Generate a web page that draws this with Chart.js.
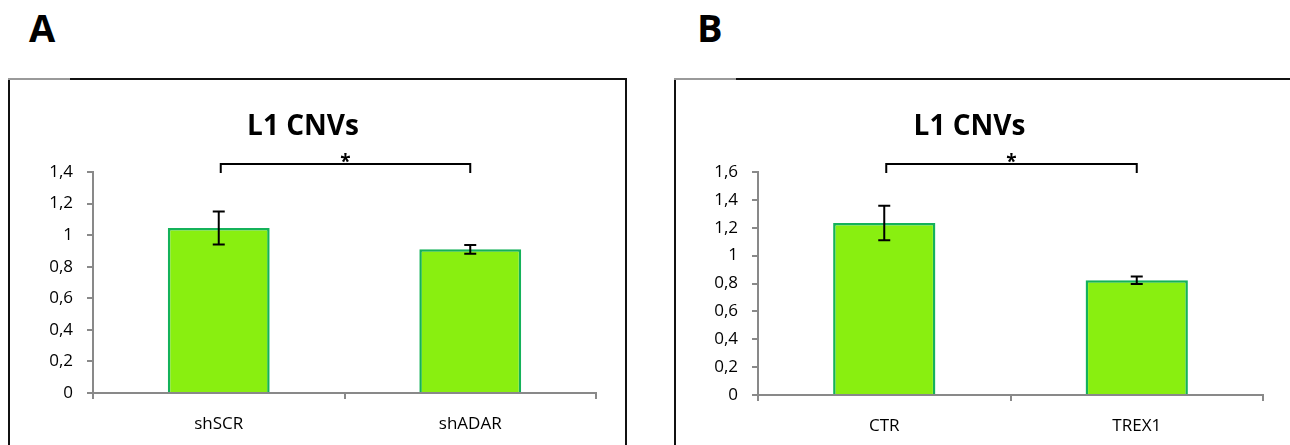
<!DOCTYPE html>
<html>
<head>
<meta charset="utf-8">
<title>L1 CNVs</title>
<script src="https://cdn.jsdelivr.net/npm/chart.js@4.4.1/dist/chart.umd.min.js"></script>
<style>
  html, body { margin: 0; padding: 0; background: #fff; }
  body { position: relative; width: 1290px; height: 445px; overflow: hidden; font-family: "Open Sans", sans-serif; }
  .letter { position: absolute; top: 8px; font-weight: 700; font-size: 38px; line-height: 38px; color: #000; }
  .panel { position: absolute; top: 78px; height: 367px; box-sizing: border-box;
           border-top: 2px solid #111; border-left: 2px solid #111; border-right: 2px solid #111; }
  .panel .fade { position: absolute; top: -2px; left: -2px; width: 62px; height: 2px; background: #9a9a9a; }
  canvas { position: absolute; }
</style>
</head>
<body>
<div class="letter" style="left:29px">A</div>
<div class="letter" style="left:697px">B</div>

<div class="panel" style="left:8px; width:619px"><div class="fade"></div></div>
<div class="panel" style="left:674px; width:640px"><div class="fade"></div></div>

<canvas id="chartA" width="614" height="365" style="left:10px; top:80px"></canvas>
<canvas id="chartB" width="614" height="365" style="left:676px; top:80px"></canvas>

<script>
// Panel A data
const labelsA = ['shSCR', 'shADAR'];
const meansA = [1.045, 0.91];
const errorsA = [0.105, 0.028];
const maxA = 1.4;

// Panel B data
const labelsB = ['CTR', 'TREX1'];
const meansB = [1.234, 0.823];
const errorsB = [0.124, 0.027];
const maxB = 1.6;

const chartTitle = 'L1 CNVs';
const sigMark = '*';

const barFill = '#89ef10';
const barBorder = '#14b25a';
const axisGray = '#898989';

// error bars (black, with caps)
const errorBarPlugin = {
    id: 'errorBars',
    afterDatasetsDraw(chart) {
        const ds = chart.data.datasets[0];
        const meta = chart.getDatasetMeta(0);
        const y = chart.scales.y;
        const ctx = chart.ctx;
        ctx.save();
        ctx.strokeStyle = '#000';
        ctx.lineWidth = 2;
        meta.data.forEach((bar, i) => {
            const top = y.getPixelForValue(ds.data[i] + ds.errors[i]);
            const bottom = y.getPixelForValue(ds.data[i] - ds.errors[i]);
            ctx.beginPath();
            ctx.moveTo(bar.x, top);
            ctx.lineTo(bar.x, bottom);
            ctx.moveTo(bar.x - 6, top);
            ctx.lineTo(bar.x + 6, top);
            ctx.moveTo(bar.x - 6, bottom);
            ctx.lineTo(bar.x + 6, bottom);
            ctx.stroke();
        });
        ctx.restore();
    }
};

// significance bracket over the two bars
const bracketPlugin = {
    id: 'sigBracket',
    afterDraw(chart) {
        const x = chart.scales.x;
        const area = chart.chartArea;
        const ctx = chart.ctx;
        const x0 = x.getPixelForValue(0) + 2;
        const x1 = x.getPixelForValue(1);
        const yLine = area.top - 8;
        const yEnd = area.top + 1;
        ctx.save();
        ctx.strokeStyle = '#000';
        ctx.lineWidth = 2;
        ctx.beginPath();
        ctx.moveTo(x0, yEnd);
        ctx.lineTo(x0, yLine);
        ctx.lineTo(x1, yLine);
        ctx.lineTo(x1, yEnd);
        ctx.stroke();
        ctx.fillStyle = '#000';
        ctx.font = 'bold 19px "Open Sans"';
        ctx.textAlign = 'center';
        ctx.textBaseline = 'alphabetic';
        ctx.fillText(sigMark, (x0 + x1) / 2, yLine + 4);
        ctx.restore();
    }
};

function commaTick(value) {
    return String(Math.round(value * 10) / 10).replace('.', ',');
}

function makeChart(id, labels, means, errors, yMax, yWidth, xHeight, padRight) {
    const ctx = document.getElementById(id).getContext('2d');
    return new Chart(ctx, {
        type: 'bar',
        data: {
            labels: labels,
            datasets: [{
                data: means,
                errors: errors,
                backgroundColor: barFill,
                borderColor: barBorder,
                borderWidth: 2.5,
                barPercentage: 0.405,
                categoryPercentage: 1
            }]
        },
        options: {
            responsive: false,
            animation: false,
            layout: { padding: { left: 0, right: padRight, top: 0, bottom: 0 } },
            plugins: {
                legend: { display: false },
                tooltip: { enabled: false },
                title: {
                    display: true,
                    text: chartTitle,
                    color: '#000',
                    font: { family: 'Open Sans', size: 28, weight: 'bold', lineHeight: 1.2 },
                    padding: { top: 30, bottom: 28.4 }
                }
            },
            scales: {
                x: {
                    grid: { display: true, drawOnChartArea: false, tickLength: 6, color: axisGray, lineWidth: 2 },
                    border: { color: axisGray, width: 2 },
                    ticks: { color: '#000', padding: 15, font: { family: 'Open Sans', size: 17 } },
                    afterFit: s => { s.height = xHeight; }
                },
                y: {
                    min: 0,
                    max: yMax,
                    grid: { display: true, drawOnChartArea: false, tickLength: 6, color: axisGray, lineWidth: 2 },
                    border: { color: axisGray, width: 2 },
                    ticks: {
                        stepSize: 0.2,
                        color: '#000',
                        padding: 14,
                        font: { family: 'Open Sans', size: 17 },
                        callback: commaTick
                    },
                    afterFit: s => { s.width = yWidth; }
                }
            }
        },
        plugins: [errorBarPlugin, bracketPlugin]
    });
}

document.addEventListener('DOMContentLoaded', function () {
    makeChart('chartA', labelsA, meansA, errorsA, maxA, 83, 52, 28);
    makeChart('chartB', labelsB, meansB, errorsB, maxB, 82, 50, 27);
});
</script>
</body>
</html>
